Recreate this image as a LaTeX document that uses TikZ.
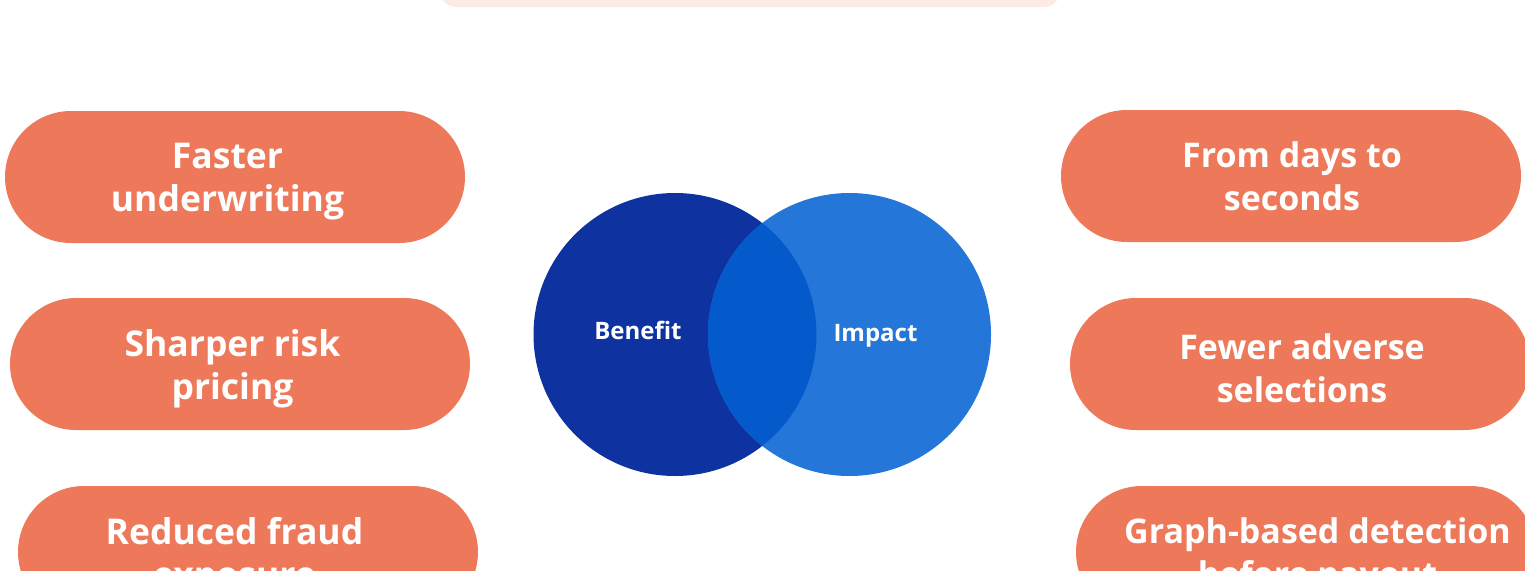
\documentclass[tikz,border=0pt]{standalone}
\usepackage{fontspec}
\setmainfont{Open Sans}
\usetikzlibrary{shapes.misc}
\definecolor{pillorange}{RGB}{237,121,90}
\definecolor{titlepink}{RGB}{252,234,228}
\definecolor{benefitblue}{RGB}{14,50,160}
\definecolor{impactblue}{RGB}{36,118,216}
\definecolor{overlapblue}{RGB}{5,90,203}
\newcommand{\pillwidth}{460pt}
\newcommand{\pillheight}{132pt}
\newcommand{\vennradius}{141.5}
\tikzset{
    pill/.style={rounded rectangle, fill=pillorange, minimum width=\pillwidth,
        minimum height=\pillheight, inner sep=0pt},
    pilltext/.style={text=white, inner sep=0pt, align=center,
        font=\fontsize{34}{43}\selectfont\bfseries},
    benefittext/.style={pilltext, font=\fontsize{35.5}{43}\selectfont\bfseries},
    venn/.style={circle, minimum size=2*\vennradius pt, inner sep=0pt},
    vennlabel/.style={anchor=base, text=white, font=\fontsize{24}{28}\selectfont\bfseries}
}

\begin{document}
\begin{tikzpicture}[x=1pt, y=-1pt]
      \useasboundingbox (0,0) rectangle (1525,570);

      % title box, cut by the top edge
      \fill[titlepink, rounded corners=16] (440,-60) rectangle (1060,7);

      % benefits
      \node[pill] (faster) at (235,177) {};
      \node[pill] (sharper) at (240,364) {};
      \node[pill] (fraud) at (248,552) {};
      \node[benefittext] (faster-text) at (227.5,182) {Faster\\underwriting};
      \node[benefittext] (sharper-text) at (232.5,369) {Sharper risk\\pricing};
      \node[benefittext] (fraud-text) at (234.5,557) {Reduced fraud\\exposure};

      % impacts
      \node[pill] (seconds) at (1291,176) {};
      \node[pill] (fewer) at (1300,364) {};
      \node[pill] (graph) at (1306,552) {};
      \node[pilltext] (seconds-text) at (1292,176) {From days to\\seconds};
      \node[pilltext] (fewer-text) at (1302,368) {Fewer adverse\\selections};
      \node[pilltext] (graph-text) at (1317.5,556) {Graph-based detection\\before payout};

      % venn
      \node[venn, fill=benefitblue] (benefit) at (675,334.5) {};
      \node[venn, fill=impactblue] (impact) at (849.5,334.5) {};
      \begin{scope}
          \clip (benefit.center) circle (\vennradius);
          \fill[overlapblue] (impact.center) circle (\vennradius);
      \end{scope}
      \node[vennlabel] (benefit-label) at (638,339) {Benefit};
      \node[vennlabel] (impact-label) at (875.5,341) {Impact};
\end{tikzpicture}
\end{document}
